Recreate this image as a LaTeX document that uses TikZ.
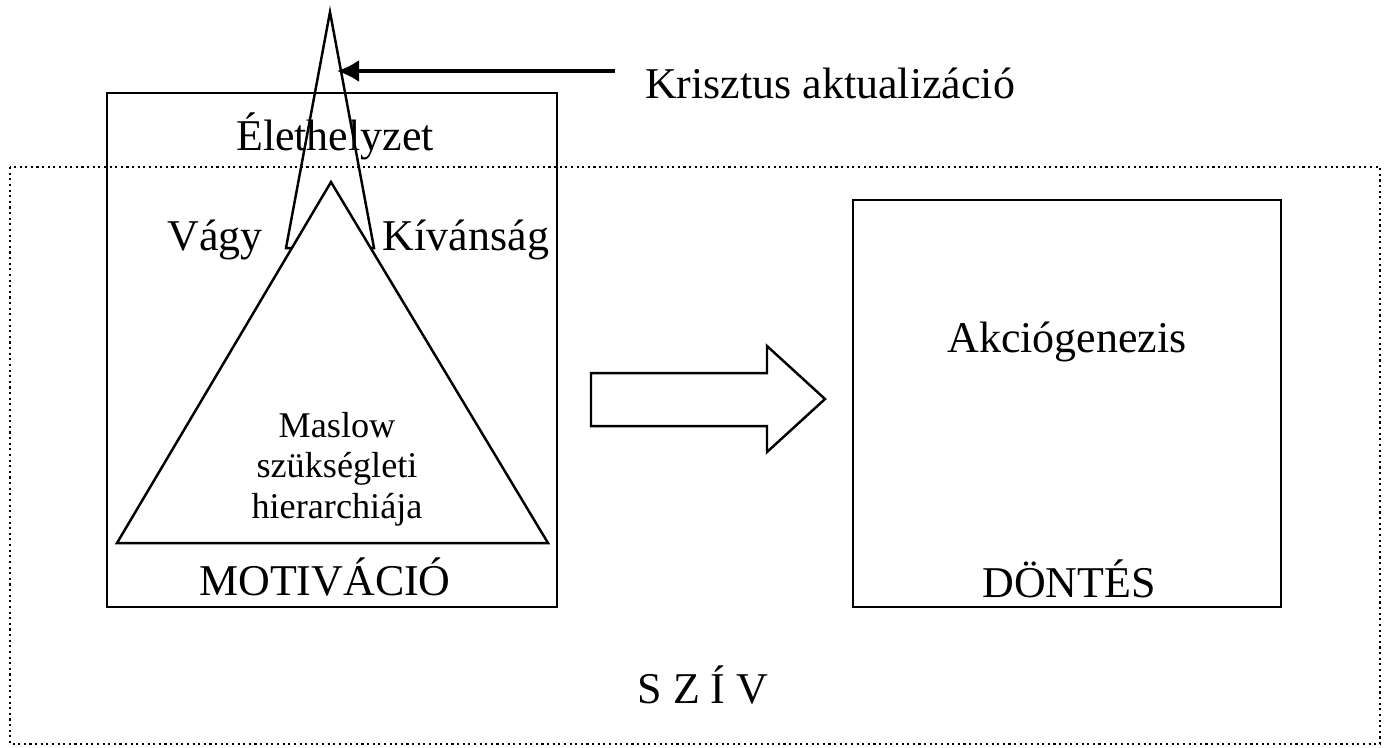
\documentclass[tikz,border=0pt]{standalone}
\usepackage{fontspec}
\setmainfont{Liberation Serif}
\usepackage{tikz}
\usetikzlibrary{arrows.meta, positioning}

\begin{document}
\begin{tikzpicture}[x=0.01cm, y=-0.01cm, line width=0.7pt,
    lbl/.style={font=\fontsize{12.5}{15}\selectfont, anchor=base},
    small/.style={font=\fontsize{10.3}{11.5}\selectfont, anchor=base, align=center}]
    \useasboundingbox (0,0) rectangle (1385,747);

    % szív (outer dotted frame)
    \draw [densely dotted, line width=0.6pt] (10,167) rectangle (1380,744);
    \node (sziv) [lbl] at (703,703) {S Z Í V};

    % motivation box
    \node (mot) [draw, rectangle, minimum width=450*0.01cm, minimum height=514*0.01cm, inner sep=0pt] at (332,350) {};
    \node (dont) [draw, rectangle, minimum width=428*0.01cm, minimum height=407*0.01cm, inner sep=0pt] at (1067,403.5) {};

    % narrow triangle, then the big one over it
    \draw (330,12) coordinate (top) -- (374,248) -- (286,248) -- cycle;
    \draw [fill=white] (331,182) -- (548,543) -- (117,543) -- cycle;

    \node (elet) [lbl] at (335,150) {Élethelyzet};
    \node (vagy) [lbl] at (215,250) {Vágy};
    \node (kiv) [lbl] at (466,250) {Kívánság};
    \node (maslow) [small] at (337,518) {Maslow\\szükségleti\\hierarchiája};
    \node (motiv) [lbl] at (325,595) {MOTIVÁCIÓ};

    \node (akcio) [lbl] at (1067,352) {Akciógenezis};
    \node (dontes) [lbl] at (1069,597) {DÖNTÉS};

    \node (kriszt) [lbl] at (830,98) {Krisztus aktualizáció};
    \coordinate (tip) at (337,71);
    \draw [line width=0.9pt, -{Latex[length=2.2mm, width=2.2mm]}] ([xshift=-5pt]kriszt.west |- tip) -- (tip);

    % block arrow
    \draw (591,373) -- (767,373) -- (767,346) -- (825,399) -- (767,452) -- (767,426) -- (591,426) -- cycle;
\end{tikzpicture}
\end{document}
